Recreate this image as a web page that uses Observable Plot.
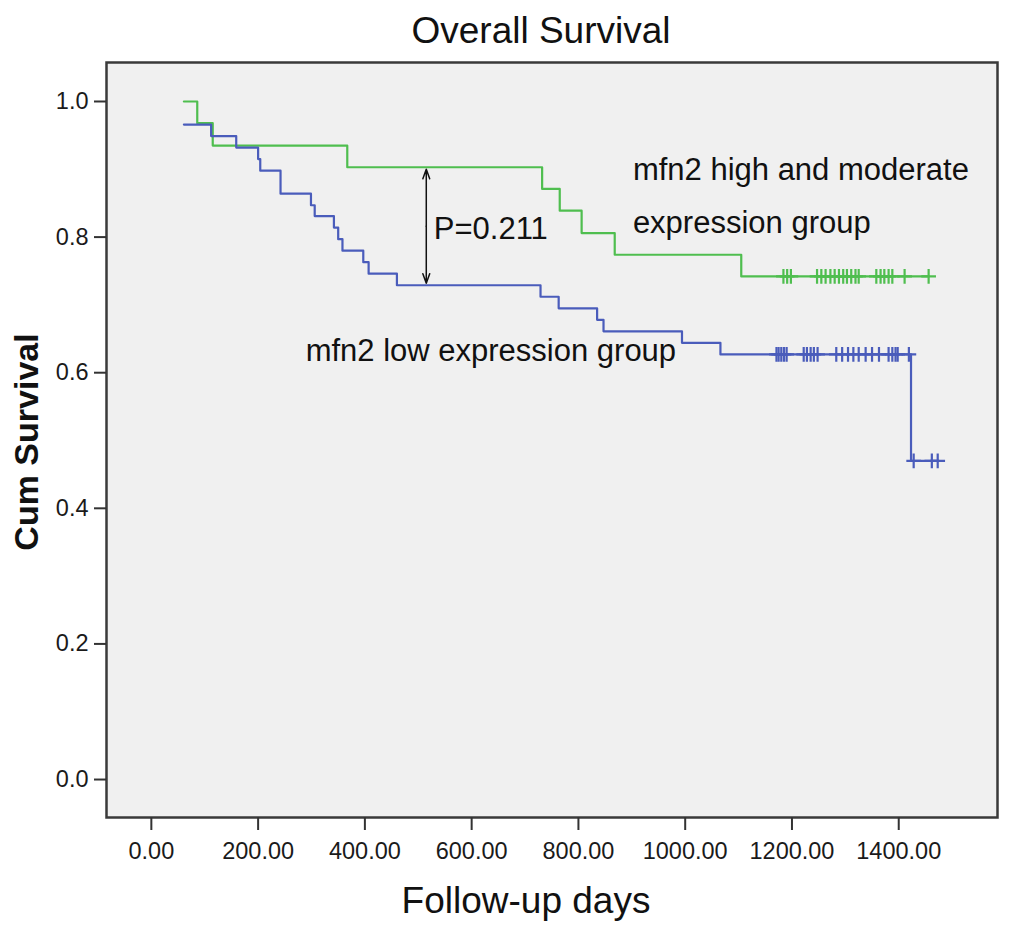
<!DOCTYPE html>
<html>
<head>
<meta charset="utf-8">
<script src="https://cdn.jsdelivr.net/npm/d3@7"></script>
<script src="https://cdn.jsdelivr.net/npm/@observablehq/plot@0.6"></script>
<style>
  html, body { margin: 0; padding: 0; background: #fff; }
</style>
</head>
<body>
<div id="chart"></div>
<script>
// ---- Data ----
const xTicks = [0, 200, 400, 600, 800, 1000, 1200, 1400];
const yTicks = [0.0, 0.2, 0.4, 0.6, 0.8, 1.0];

// mfn2 high and moderate expression group (green)
const greenTimes = [61, 86, 115, 367, 732, 765, 806, 868, 1105];
const greenSurv  = [1.000, 0.968, 0.935, 0.903, 0.871, 0.839, 0.806, 0.774, 0.742];
const greenCensor = [1184, 1191, 1198, 1247, 1255, 1263, 1272, 1280, 1288, 1296, 1303,
                     1311, 1319, 1325, 1358, 1366, 1373, 1381, 1388, 1411, 1456];

// mfn2 low expression group (blue)
const blueTimes = [61, 112, 159, 200, 204, 242, 299, 306, 342, 350, 358, 397, 407,
                   460, 729, 763, 835, 847, 994, 1066, 1423];
const blueSurv  = [0.966, 0.949, 0.932, 0.915, 0.898, 0.864, 0.847, 0.831, 0.814, 0.797,
                   0.780, 0.763, 0.746, 0.729, 0.712, 0.695, 0.678, 0.661, 0.644, 0.627, 0.470];
const blueCensor = [1171, 1175, 1180, 1185, 1190, 1222, 1228, 1235, 1241, 1248, 1283,
                    1294, 1305, 1315, 1325, 1338, 1350, 1363, 1381, 1388, 1394, 1398,
                    1419, 1428, 1462, 1473];

// annotations (in data coordinates: day, survival)
const annoText = ["mfn2 high and moderate", "expression group", "mfn2 low expression group", "P=0.211"];
const annoDay  = [902, 902, 289, 529];
const annoSurv = [0.899, 0.821, 0.632, 0.8125];
const pArrowDay = 515;
const pArrowTop = 0.900;
const pArrowBottom = 0.732;

// ---- Build tables ----
const GREEN = "#4fbe4f";
const BLUE = "#4a5cbb";

function stepLine(times, surv, censor) {
  const pts = times.map((t, i) => ({time: t, surv: surv[i]}));
  pts.push({time: d3.max(censor), surv: surv[surv.length - 1]});
  return pts;
}
function censorPts(times, surv, censor) {
  return censor.map(t => {
    const i = Math.max(0, d3.bisectRight(times, t) - 1);
    return {time: t, surv: surv[i]};
  });
}
const greenLine = stepLine(greenTimes, greenSurv, greenCensor);
const blueLine = stepLine(blueTimes, blueSurv, blueCensor);
const greenC = censorPts(greenTimes, greenSurv, greenCensor);
const blueC = censorPts(blueTimes, blueSurv, blueCensor);
const annos = annoText.map((t, i) => ({text: t, time: annoDay[i], surv: annoSurv[i]}));
const pMid = (pArrowTop + pArrowBottom) / 2;
const arrows = [
  {x1: pArrowDay, y1: pMid, x2: pArrowDay, y2: pArrowTop},
  {x1: pArrowDay, y1: pMid, x2: pArrowDay, y2: pArrowBottom}
];

const chart = Plot.plot({
  width: 1024,
  height: 941,
  marginLeft: 106,
  marginRight: 27,
  marginTop: 62,
  marginBottom: 124,
  x: {domain: [-84, 1585]},
  y: {domain: [-0.056, 1.0575]},
  style: {
    fontFamily: "'Liberation Sans', Arial, sans-serif",
    background: "#ffffff",
    color: "#1a1a1a",
    overflow: "visible"
  },
  marks: [
    Plot.frame({fill: "#f0f0f0", stroke: "none"}),
    Plot.line(greenLine, {x: "time", y: "surv", curve: "step-after", stroke: GREEN, strokeWidth: 2.2}),
    Plot.line(blueLine, {x: "time", y: "surv", curve: "step-after", stroke: BLUE, strokeWidth: 2.2}),
    Plot.dot(greenC, {x: "time", y: "surv", symbol: "plus", r: 4.8, stroke: GREEN, fill: "none", strokeWidth: 2.2}),
    Plot.dot(blueC, {x: "time", y: "surv", symbol: "plus", r: 4.8, stroke: BLUE, fill: "none", strokeWidth: 2.2}),
    Plot.arrow(arrows, {x1: "x1", y1: "y1", x2: "x2", y2: "y2", stroke: "#111", strokeWidth: 1.5,
                        headLength: 10, headAngle: 40}),
    Plot.text(annos, {x: "time", y: "surv", text: "text", textAnchor: "start", lineAnchor: "middle",
                      fontSize: 31, fill: "#111"}),
    Plot.frame({stroke: "#3a3a3a", strokeWidth: 2.5}),
    Plot.axisX({ticks: xTicks, tickFormat: d3.format(".2f"), tickSize: 13, tickPadding: 12,
                fontSize: 23.5, label: null, strokeWidth: 2, stroke: "#333"}),
    Plot.axisY({ticks: yTicks, tickFormat: d3.format(".1f"), tickSize: 12, tickPadding: 6,
                fontSize: 23.5, label: null, strokeWidth: 2, stroke: "#333"}),
    Plot.text(["Overall Survival"], {frameAnchor: "top", text: d => d, dx: -11, dy: -31,
                                     textAnchor: "middle", lineAnchor: "middle",
                                     fontSize: 37, fill: "#111"}),
    Plot.text(["Follow-up days"], {frameAnchor: "bottom", text: d => d, dx: -26, dy: 84,
                                   textAnchor: "middle", lineAnchor: "middle",
                                   fontSize: 37, fill: "#111"}),
    Plot.text(["Cum Survival"], {frameAnchor: "left", text: d => d, dx: -79, dy: 2, rotate: -90,
                                 textAnchor: "middle", lineAnchor: "middle",
                                 fontSize: 34, fontWeight: "bold", fill: "#111"})
  ]
});
document.getElementById("chart").append(chart);
</script>
</body>
</html>
